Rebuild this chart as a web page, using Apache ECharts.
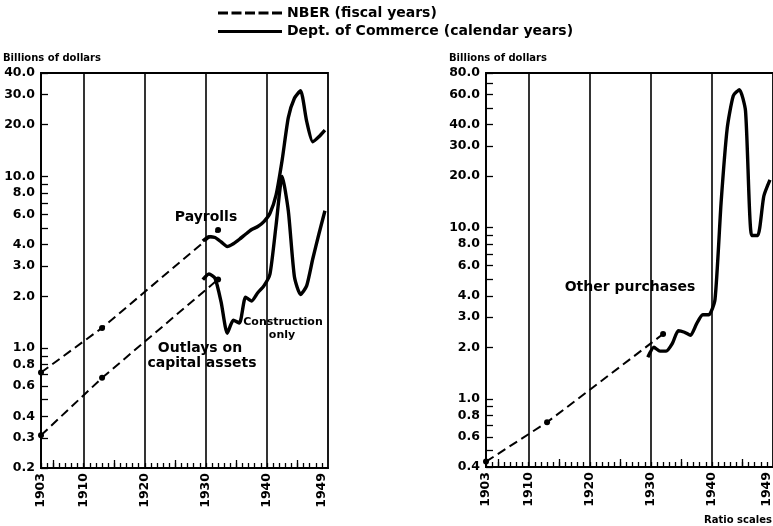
<!DOCTYPE html>
<html>
<head>
<meta charset="utf-8">
<script src="https://cdn.jsdelivr.net/npm/echarts@6/dist/echarts.min.js"></script>
<style>
  html, body { margin: 0; padding: 0; background: #fff; }
  #chart { width: 773px; height: 526px; }
</style>
</head>
<body>
<div id="chart"></div>
<script>
// NBER, fiscal years
const nberYears = [1903, 1913, 1932];
const nberPayrolls = [0.72, 1.31, 4.87];
const nberOutlays = [0.31, 0.67, 2.51];
const nberOther = [0.43, 0.73, 2.39];

// Dept. of Commerce, calendar years
const commerceYears = [1929, 1930, 1931, 1932, 1933, 1934, 1935, 1936, 1937, 1938, 1939,
  1940, 1941, 1942, 1943, 1944, 1945, 1946, 1947, 1948, 1949];
const commercePayrolls = [4.2, 4.45, 4.4, 4.15, 3.9, 4.05, 4.3, 4.6, 4.9, 5.1, 5.45,
  6.1, 7.8, 12.5, 22, 28.5, 31.5, 21, 15.9, 17, 18.6];
const commerceOutlays = [2.5, 2.7, 2.55, 1.85, 1.22, 1.45, 1.4, 1.98, 1.88, 2.1, 2.3,
  2.7, 5.2, 10.0, 6.3, 2.6, 2.05, 2.3, 3.3, 4.6, 6.3];
const commerceOther = [1.75, 2.0, 1.9, 1.9, 2.1, 2.5, 2.45, 2.35, 2.75, 3.1, 3.1,
  3.8, 14, 38, 59, 64, 48, 9.0, 9.0, 15.3, 19];

// axis ticks and labels
const yearLabels = [1903, 1910, 1920, 1930, 1940, 1949];
const decadeLines = [1910, 1920, 1930, 1940];
const midDecadeTicks = [1905, 1915, 1925, 1935, 1945];
const yearTicks = [];
for (let y = 1903; y <= 1949; y++) yearTicks.push(y);
const leftTickLabels = [0.2, 0.3, 0.4, 0.6, 0.8, 1, 2, 3, 4, 6, 8, 10, 20, 30, 40];
const leftTicks = [0.2, 0.3, 0.4, 0.5, 0.6, 0.7, 0.8, 0.9, 1, 2, 3, 4, 5, 6, 7, 8, 9, 10, 20, 30, 40];
const rightTickLabels = [0.4, 0.6, 0.8, 1, 2, 3, 4, 6, 8, 10, 20, 30, 40, 60, 80];
const rightTicks = [0.4, 0.5, 0.6, 0.7, 0.8, 0.9, 1, 2, 3, 4, 5, 6, 7, 8, 9, 10, 20, 30, 40, 50, 60, 70, 80];

const NB = 'NBER (fiscal years)';
const DC = 'Dept. of Commerce (calendar years)';
const font = 'DejaVu Sans';
const ink = '#000';

const chart = echarts.init(document.getElementById('chart'));

function xAxes(gi) {
  return [
    {
      type: 'value', gridIndex: gi, min: 1903, max: 1950, position: 'bottom',
      axisLine: { show: true, onZero: false, lineStyle: { color: ink, width: 1.8 } },
      axisTick: { show: true, inside: true, length: 5, customValues: yearTicks, lineStyle: { color: ink, width: 1.3 } },
      axisLabel: {
        customValues: yearLabels, rotate: 90, margin: 5, color: ink,
        fontFamily: font, fontWeight: 'bold', fontSize: 12.5,
        formatter: v => String(v)
      },
      splitLine: { show: false }
    },
    {
      type: 'value', gridIndex: gi, min: 1903, max: 1950, position: 'bottom',
      axisLine: { show: false, onZero: false },
      axisTick: { show: true, inside: true, length: 8, customValues: midDecadeTicks, lineStyle: { color: ink, width: 1.3 } },
      axisLabel: { show: false },
      splitLine: { show: false }
    }
  ];
}

function yAxis(gi, min, max, ticks, labels) {
  return {
    type: 'log', logBase: 10, gridIndex: gi, min: min, max: max,
    axisLine: { show: true, onZero: false, lineStyle: { color: ink, width: 1.8 } },
    axisTick: { show: true, inside: true, length: 7, customValues: ticks, lineStyle: { color: ink, width: 1.3 } },
    axisLabel: {
      customValues: labels, margin: 6, color: ink,
      fontFamily: font, fontWeight: 'bold', fontSize: 12.5,
      formatter: v => Number(v).toFixed(1)
    },
    splitLine: { show: false },
    minorTick: { show: false }
  };
}

function vLines() {
  return {
    symbol: ['none', 'none'], silent: true, label: { show: false },
    lineStyle: { color: ink, width: 1.6, type: 'solid' },
    emphasis: { disabled: true },
    data: decadeLines.map(v => ({ xAxis: v }))
  };
}

function nberSeries(xi, yi, vals, withLines) {
  const s = {
    name: NB, type: 'line', xAxisIndex: xi, yAxisIndex: yi,
    data: nberYears.map((y, i) => [y, vals[i]]),
    symbol: 'circle', symbolSize: 6, showAllSymbol: true,
    itemStyle: { color: ink },
    lineStyle: { color: ink, width: 2, type: [9, 5] },
    emphasis: { disabled: true }, z: 3
  };
  if (withLines) s.markLine = vLines();
  return s;
}

function commerceSeries(xi, yi, vals) {
  return {
    name: DC, type: 'line', xAxisIndex: xi, yAxisIndex: yi,
    // calendar-year values are plotted at mid-year
    data: commerceYears.map((y, i) => [y + 0.5, vals[i]]),
    symbol: 'none', smooth: 0.2,
    itemStyle: { color: ink },
    lineStyle: { color: ink, width: 3.4 },
    emphasis: { disabled: true }, z: 4
  };
}

function txt(text, x, y, size, align) {
  return {
    type: 'text', x: x, y: y, silent: true,
    style: {
      text: text, fill: ink, font: 'bold ' + size + 'px "' + font + '"',
      textAlign: align || 'center', textVerticalAlign: 'middle'
    }
  };
}

const dashIcon = 'path://M0,0h10v3h-10zM13.5,0h10v3h-10zM27,0h10v3h-10zM40.5,0h10v3h-10zM54,0h10v3h-10z';

chart.setOption({
  animation: false,
  backgroundColor: '#fff',
  legend: {
    left: 218, top: 5, orient: 'vertical', padding: 0,
    itemWidth: 64, itemHeight: 3, itemGap: 2.5, itemTextGap: 3,
    selectedMode: false,
    textStyle: { fontFamily: font, fontWeight: 'bold', fontSize: 14, lineHeight: 16, color: ink },
    data: [{ name: NB, icon: dashIcon }, { name: DC, icon: 'rect' }]
  },
  grid: [
    { left: 41, top: 73, width: 287, bottom: 58, show: true, borderColor: ink, borderWidth: 1.8, outerBoundsMode: 'none' },
    { left: 486, top: 73, width: 287, bottom: 59, show: true, borderColor: ink, borderWidth: 1.8, outerBoundsMode: 'none' }
  ],
  xAxis: xAxes(0).concat(xAxes(1)),
  yAxis: [
    yAxis(0, 0.2, 40, leftTicks, leftTickLabels),
    yAxis(1, 0.4, 80, rightTicks, rightTickLabels)
  ],
  series: [
    nberSeries(0, 0, nberPayrolls, true),
    nberSeries(0, 0, nberOutlays, false),
    commerceSeries(0, 0, commercePayrolls),
    commerceSeries(0, 0, commerceOutlays),
    nberSeries(2, 1, nberOther, true),
    commerceSeries(2, 1, commerceOther)
  ],
  graphic: [
    txt('Billions of dollars', 3, 58, 10, 'left'),
    txt('Billions of dollars', 449, 58, 10, 'left'),
    txt('Payrolls', 206, 217, 14),
    txt('Outlays on', 200, 348, 14),
    txt('capital assets', 202, 363, 14),
    txt('Construction', 283, 322, 11),
    txt('only', 282, 335, 11),
    txt('Other purchases', 630, 287, 14),
    txt('Ratio scales', 738, 520, 10)
  ]
});
</script>
</body>
</html>
